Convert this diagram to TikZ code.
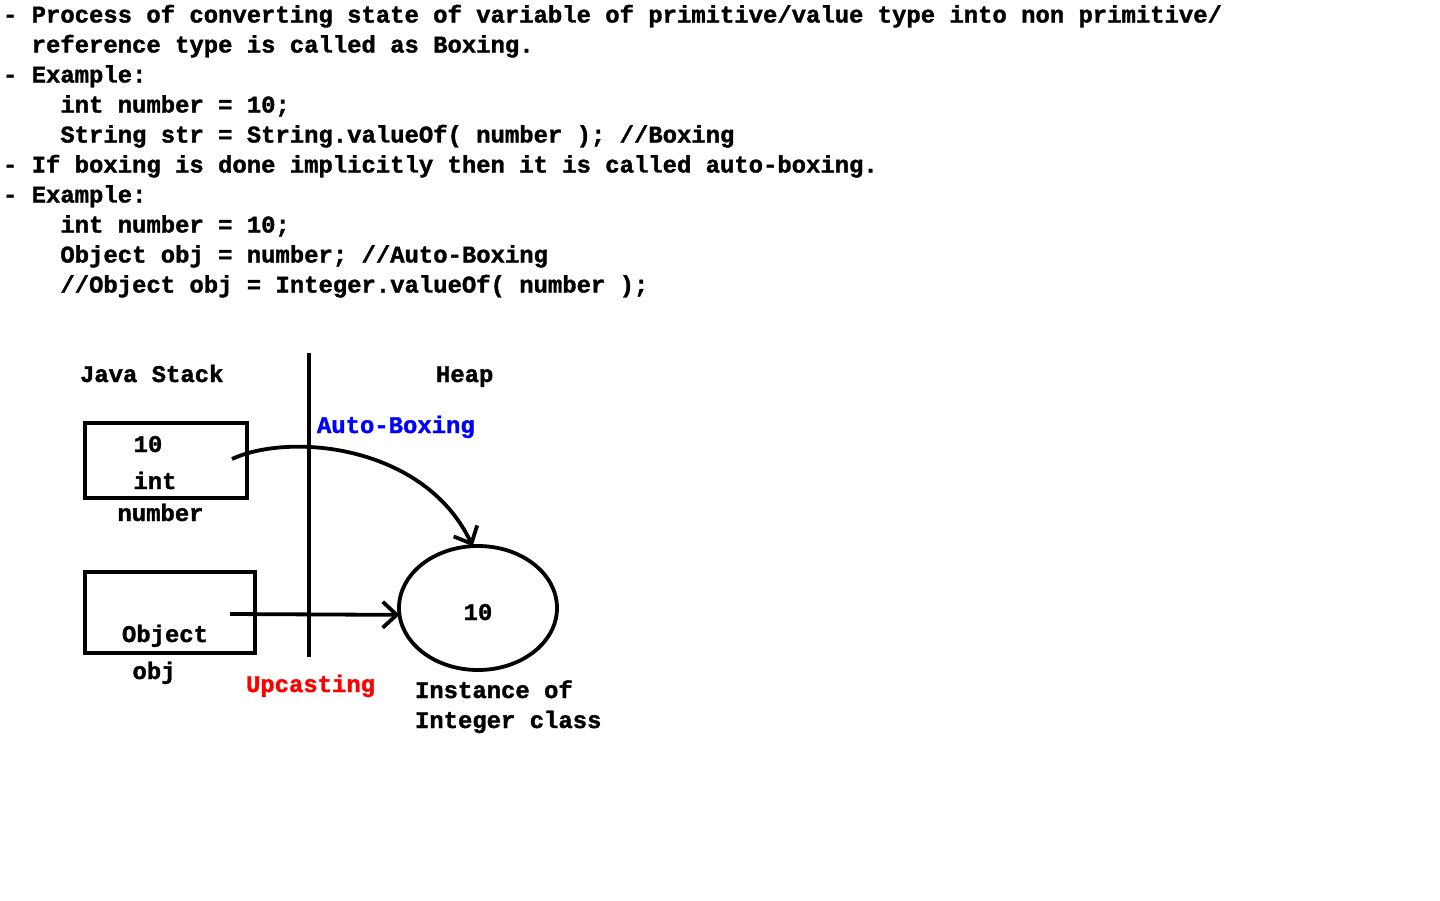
\documentclass[tikz,border=0pt]{standalone}
\usepackage{fontspec}
\setmonofont{Liberation Mono}[BoldFeatures={FakeBold=1.5}]
\usetikzlibrary{shapes.geometric,arrows.meta}
\definecolor{autoblue}{RGB}{0,0,255}
\definecolor{upred}{RGB}{255,0,0}
\begin{document}
\begin{tikzpicture}[x=1pt,y=-1pt,
  every node/.style={inner sep=0pt,outer sep=0pt},
  txt/.style={anchor=base west,font=\fontsize{23.9}{30}\selectfont\ttfamily\bfseries},
  ctxt/.style={anchor=base,font=\fontsize{23.9}{30}\selectfont\ttfamily\bfseries},
  thick line/.style={line width=3.8pt},
  box/.style={draw,line width=3.6pt,rectangle},
  conn/.style={line width=3.8pt,-{Straight Barb[length=14pt,width=26pt,line width=3.8pt]}}]
\useasboundingbox (0,0) rectangle (1440,900);
% text lines
\def\cw{14.35}
\node[txt] (l1) at (3,22.5) {- Process of converting state of variable of primitive/value type into non primitive/};
\node[txt] (l2) at (3+2*\cw,52.5) {reference type is called as Boxing.};
\node[txt] (l3) at (3,82.5) {- Example:};
\node[txt] (l4) at (3+4*\cw,112.5) {int number = 10;};
\node[txt] (l5) at (3+4*\cw,142.5) {String str = String.valueOf( number ); //Boxing};
\node[txt] (l6) at (3,172.5) {- If boxing is done implicitly then it is called auto-boxing.};
\node[txt] (l7) at (3,202.5) {- Example:};
\node[txt] (l8) at (3+4*\cw,232.5) {int number = 10;};
\node[txt] (l9) at (3+4*\cw,262.5) {Object obj = number; //Auto-Boxing};
\node[txt] (l10) at (3+4*\cw,292.5) {//Object obj = Integer.valueOf( number );};
% headings
\node[txt] (stack) at (80,382) {Java Stack};
\node[txt] (heap) at (436,382) {Heap};
% divider
\coordinate (dtop) at (309,353);
\coordinate (dbot) at (309,657);
\draw[thick line] (dtop) -- (dbot);
% boxes
\node[box,minimum width=162pt,minimum height=75pt] (b1) at (166,460.5) {};
\node[ctxt] (b1v) at (148,452) {10};
\node[ctxt] (b1t) at (155,489) {int};
\node[ctxt] (b1n) at (160.5,521) {number};
\node[box,minimum width=170pt,minimum height=81pt] (b2) at (170,612.5) {};
\node[ctxt] (b2t) at (165,642) {Object};
\node[ctxt] (b2n) at (154,679) {obj};
% ellipse
\node[draw,ellipse,line width=3.8pt,minimum width=158pt,minimum height=124pt] (ell) at (478,608) {};
\node[ctxt] (ellv) at (478,620) {10};
\node[txt] (inst1) at (415,698) {Instance of};
\node[txt] (inst2) at (415,728) {Integer class};
% labels
\node[txt,text=autoblue] (ab) at (317,433) {Auto-Boxing};
\node[txt,text=upred] (up) at (246,692) {Upcasting};
% connectors
\coordinate (s1) at (232,459);
\coordinate (s2) at (230,614);
\draw[conn] (s1) .. controls (290,432) and (425,445) .. (ell.95);
\draw[conn] (s2) -- (ell.185);
\end{tikzpicture}
\end{document}
